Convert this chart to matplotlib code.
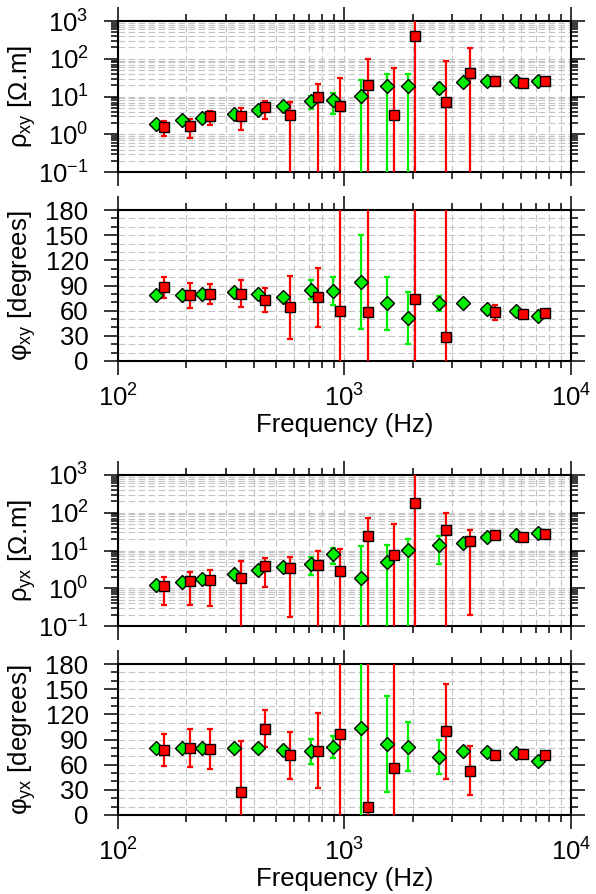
"""Apparent resistivity / phase sounding curves (xy and yx modes)."""
import matplotlib
matplotlib.use("Agg")
import matplotlib.pyplot as plt
from matplotlib.ticker import LogLocator, MultipleLocator, NullFormatter
import numpy as np

plt.rcParams['font.family'] = ['Liberation Sans', 'DejaVu Sans']
plt.rcParams['mathtext.fontset'] = 'custom'
plt.rcParams['mathtext.rm'] = 'Liberation Sans'
plt.rcParams['mathtext.it'] = 'Liberation Sans:italic'

# ── frequencies (Hz): green = series A, red = series B ──
freq_g = [148, 193, 236, 325, 415, 535, 711, 891, 1184, 1537, 1902, 2606,
          3326, 4273, 5703, 7130]
freq_r = [160, 208, 256, 351, 448, 576, 767, 960, 1276, 1661, 2050, 2817,
          3584, 4620, 6159, 7700]

# ── rho_xy (ohm.m) ──
rxy_g = [1.93, 2.42, 2.73, 3.55, 4.44, 5.67, 7.68, 8.0, 10.2, 19.5, 19.2,
         17.3, 24.4, 25.4, 25.4, 25.4]
rxy_g_err = [0.1, 0.12, 0.15, 0.2, 0.25, 0.3, 3.0, 4.5, 17.4, 21.0, 21.3,
             5.5, 1.0, 1.0, 1.0, 1.0]
rxy_r = [1.58, 1.71, 3.02, 3.08, 5.22, 3.27, 10.0, 5.67, 19.95, 3.27, 402,
         7.08, 43.0, 26.5, 23.4, 25.4]
rxy_r_err = [0.69, 0.92, 1.26, 1.8, 2.6, 4.1, 12.1, 26.0, 81.0, 55.0, 800,
             82.0, 154.0, 7.0, 1.0, 1.0]

# ── phi_xy (degrees) ──
pxy_g = [78.9, 78.9, 79.7, 82.1, 79.3, 76.1, 84.9, 83.3, 94.4, 68.6, 50.8,
         68.6, 68.6, 62.3, 59.5, 53.1]
pxy_g_err = [1, 1, 1, 1, 1, 1, 11.3, 17.0, 56.3, 32.0, 31.0, 9.0, 1, 1, 1, 1]
pxy_r = [88.0, 78.5, 79.7, 80.1, 73.0, 63.8, 76.1, 59.5, 58.7, np.nan, 74.1,
         28.9, np.nan, 58.3, 55.5, 57.1]
pxy_r_err = [12.7, 15.0, 11.5, 16.0, 14.3, 37.5, 35.0, 150, 150, np.nan, 150,
             200, np.nan, 9.0, 1, 1]

# ── rho_yx (ohm.m) ──
ryx_g = [1.19, 1.49, 1.76, 2.34, 3.04, 3.58, 4.48, 8.07, 1.91, 5.06, 10.3,
         14.3, 16.1, 22.3, 25.2, 28.5]
ryx_g_err = [0.08, 0.1, 0.1, 0.15, 0.2, 0.2, 2.24, 3.8, 11.2, 9.0, 10.4,
             10.0, 0.8, 1.0, 1.0, 1.0]
ryx_r = [1.17, 1.56, 1.69, 1.91, 3.81, 3.37, 4.05, 2.81, 23.7, 7.45, 177,
         35.7, 17.5, 25.2, 22.3, 26.8]
ryx_r_err = [0.8, 1.19, 1.36, 3.36, 2.7, 3.2, 5.85, 8.2, 50.0, 44.0, 900,
             61.0, 17.3, 1.0, 1.0, 1.0]

# ── phi_yx (degrees) ──
pyx_g = [80.3, 80.3, 79.5, 80.3, 79.5, 77.5, 75.9, 81.4, 103.7, 84.6, 81.4,
         69.5, 75.9, 75.1, 73.9, 64.4]
pyx_g_err = [1, 1, 1, 1, 1, 1, 14.7, 13.0, 200, 57.6, 29.5, 20.5, 1, 1, 1, 1]
pyx_r = [77.5, 80.3, 78.3, 27.0, 102.9, 71.1, 76.7, 96.5, 9.9, 55.6, np.nan,
         99.7, 52.8, 71.1, 72.7, 71.1]
pyx_r_err = [19.5, 22.5, 24.0, 61.0, 21.7, 27.8, 44.5, 200, 200, 200, np.nan,
             57.0, 29.0, 1, 1, 1]

GREEN = '#00ee00'
RED = '#ff0000'
GRID = dict(color='#c4c4c4', linestyle=(0, (6, 3)), linewidth=0.8)
FS = 18.5

W, H = 596, 894
fig = plt.figure(figsize=(W / 100, H / 100), dpi=100, facecolor='white')


def make_ax(top_px, bot_px):
    left, right = 117.7, 571.0
    return fig.add_axes([left / W, 1 - bot_px / H, (right - left) / W,
                         (bot_px - top_px) / H])


def style(ax, xlabels):
    ax.set_xscale('log')
    ax.set_xlim(1e2, 1e4)
    ax.xaxis.set_major_locator(LogLocator(base=10, numticks=10))
    ax.xaxis.set_minor_locator(LogLocator(base=10, subs=np.arange(2, 10),
                                          numticks=20))
    ax.xaxis.set_minor_formatter(NullFormatter())
    ax.tick_params(which='both', direction='out', top=True, right=True,
                   width=1.1, labelsize=FS)
    ax.tick_params(which='major', length=10)
    ax.tick_params(which='minor', length=5)
    ax.tick_params(axis='x', which='major', pad=7)
    ax.tick_params(axis='y', which='major', pad=11)
    if not xlabels:
        ax.tick_params(axis='x', labelbottom=False)
    else:
        ax.set_xlabel('Frequency (Hz)', fontsize=FS, labelpad=1)
    for s in ax.spines.values():
        s.set_linewidth(1.5)
    ax.grid(True, which='both', **GRID)
    ax.set_axisbelow(True)


def series(ax, f, v, err, color, marker, ms, logy):
    v = np.asarray(v, float)
    err = np.asarray(err, float)
    if logy:
        lo = np.maximum(v - err, 1e-4)
        yerr = [v - lo, err]
    else:
        yerr = [err, err]
    ax.errorbar(f, v, yerr=yerr, fmt='none', ecolor=color, elinewidth=1.6,
                capsize=2, capthick=1.6, zorder=3, clip_on=True)
    ax.plot(f, v, linestyle='none', marker=marker, ms=ms, mfc=color,
            mec='black', mew=1.0, zorder=4)


def rho_panel(ax, g, ge, r, re, label):
    series(ax, freq_g, g, ge, GREEN, 'D', 6.8, True)
    series(ax, freq_r, r, re, RED, 's', 7.4, True)
    ax.set_yscale('log')
    ax.set_ylim(0.1, 1000)
    ax.yaxis.set_major_locator(LogLocator(base=10, numticks=10))
    ax.yaxis.set_minor_locator(LogLocator(base=10, subs=np.arange(2, 10),
                                          numticks=20))
    ax.yaxis.set_minor_formatter(NullFormatter())
    ax.set_ylabel(label, fontsize=FS)


def phase_panel(ax, g, ge, r, re, label):
    series(ax, freq_g, g, ge, GREEN, 'D', 6.8, False)
    series(ax, freq_r, r, re, RED, 's', 7.4, False)
    ax.set_ylim(0, 180)
    ax.yaxis.set_major_locator(MultipleLocator(30))
    ax.yaxis.set_minor_locator(MultipleLocator(10))
    ax.set_ylabel(label, fontsize=FS)


ax1 = make_ax(21, 172.3)
ax2 = make_ax(210, 361)
ax3 = make_ax(475, 626)
ax4 = make_ax(664, 815)

for ax in (ax1, ax2, ax3, ax4):
    style(ax, ax in (ax2, ax4))

rho_panel(ax1, rxy_g, rxy_g_err, rxy_r, rxy_r_err, r'ρ$_{\mathrm{xy}}$ [Ω.m]')
phase_panel(ax2, pxy_g, pxy_g_err, pxy_r, pxy_r_err,
            r'φ$_{\mathrm{xy}}$ [degrees]')
rho_panel(ax3, ryx_g, ryx_g_err, ryx_r, ryx_r_err, r'ρ$_{\mathrm{yx}}$ [Ω.m]')
phase_panel(ax4, pyx_g, pyx_g_err, pyx_r, pyx_r_err,
            r'φ$_{\mathrm{yx}}$ [degrees]')

for ax in (ax1, ax2, ax3, ax4):
    ax.yaxis.set_label_coords(-0.175, 0.5)

fig.savefig('out.png', dpi=100, facecolor='white')
